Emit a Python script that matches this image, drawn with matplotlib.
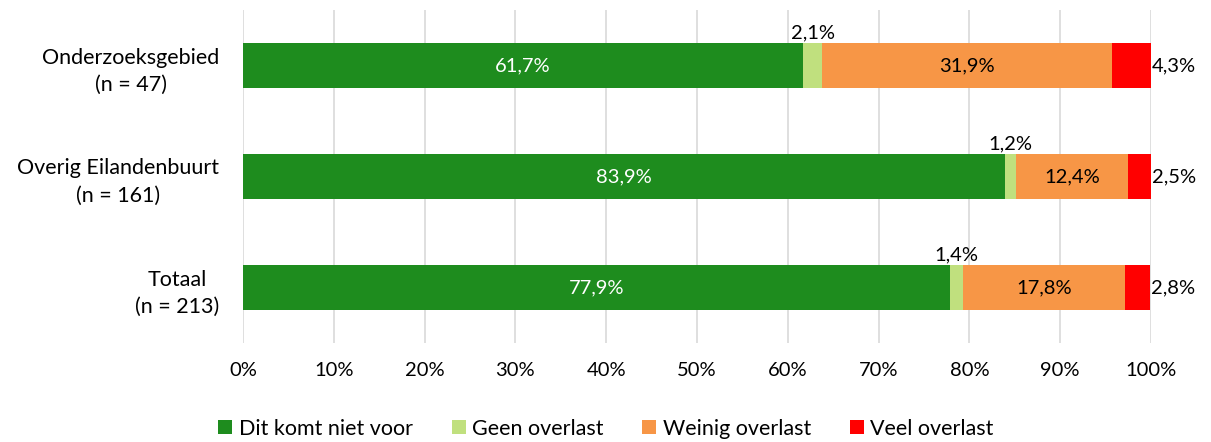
import matplotlib
matplotlib.use("Agg")
import matplotlib.pyplot as plt
from matplotlib.ticker import PercentFormatter

plt.rcParams['font.family'] = ['Lato', 'DejaVu Sans']

categories = ["Onderzoeksgebied\n(n = 47)", "Overig Eilandenbuurt\n(n = 161)", "Totaal\n(n = 213)"]
series_names = ["Dit komt niet voor", "Geen overlast", "Weinig overlast", "Veel overlast"]
niet_voor = [61.7, 83.9, 77.9]
geen = [2.1, 1.2, 1.4]
weinig = [31.9, 12.4, 17.8]
veel = [4.3, 2.5, 2.8]
colors = ["#1E8C1E", "#C0E07E", "#F79646", "#FF0000"]

fig = plt.figure(figsize=(12.11, 4.42), dpi=100)
ax = fig.add_axes([243/1211, 1-343/442, 908/1211, 333/442])

fs = 14.5
data = [niet_voor, geen, weinig, veel]
y = list(range(len(categories)))
left = [0.0]*len(categories)
for i, (vals, name, c) in enumerate(zip(data, series_names, colors)):
    bars = ax.barh(y, vals, left=left, height=0.4, color=c, label=name, zorder=3)
    for j, (b, v) in enumerate(zip(bars, vals)):
        lab = f"{v:.1f}".replace(".", ",") + "%"
        cx = left[j] + v/2
        if i == 0:
            ax.text(cx, j, lab, ha='center', va='center', color='white', fontsize=fs, zorder=4)
        elif i == 1:
            ax.text(cx, j - 0.2 - 0.02, lab, ha='center', va='bottom', color='black', fontsize=fs, zorder=4)
        elif i == 2:
            ax.text(cx, j, lab, ha='center', va='center', color='black', fontsize=fs, zorder=4)
        else:
            ax.text(left[j] + v + 0.1, j, lab, ha='left', va='center', color='black', fontsize=fs, zorder=4)
    left = [l + v for l, v in zip(left, vals)]

ax.set_xlim(0, 100)
ax.set_ylim(2.5, -0.5)
ax.set_yticks(y)
ax.set_yticklabels(categories, fontsize=15.5, multialignment='center', linespacing=1.45)
ax.set_xticks(range(0, 101, 10))
ax.xaxis.set_major_formatter(PercentFormatter(decimals=0))
ax.tick_params(axis='x', labelsize=fs, length=0, pad=14)
ax.tick_params(axis='y', length=0, pad=17)
ax.grid(axis='x', color='#D9D9D9', linewidth=1.2, zorder=0)
for s in ax.spines.values():
    s.set_visible(False)

fig.legend(loc='lower center', bbox_to_anchor=(606/1211, -0.036), ncol=4, frameon=False,
           fontsize=15.5, handlelength=0.65, handleheight=0.65, handletextpad=0.3, columnspacing=1.8)

fig.savefig("out.png", dpi=100)
